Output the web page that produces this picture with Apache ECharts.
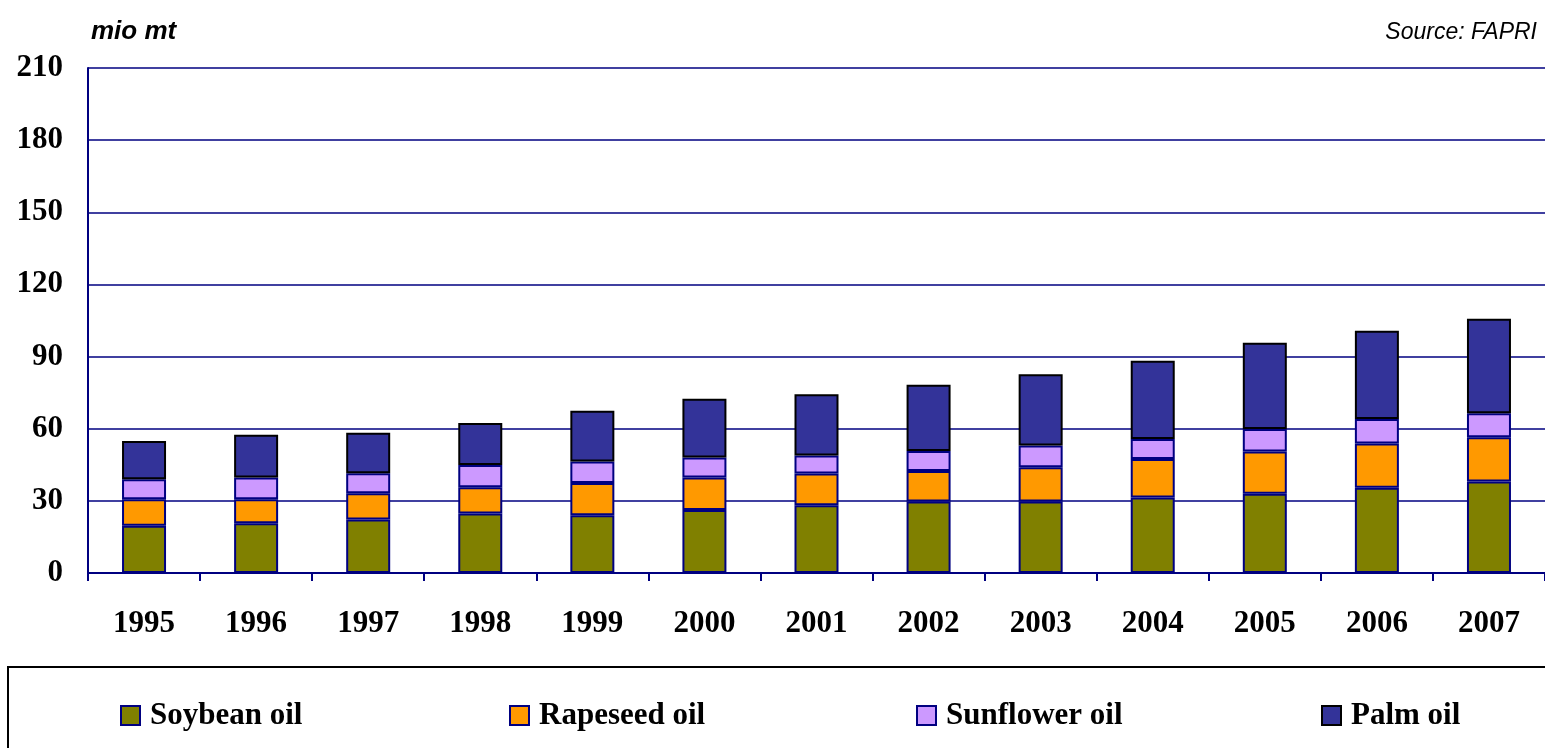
<!DOCTYPE html>
<html>
<head>
<meta charset="utf-8">
<script src="https://cdn.jsdelivr.net/npm/echarts@6/dist/echarts.min.js"></script>
<style>
  html, body { margin: 0; padding: 0; background: #fff; }
  #chart { width: 1545px; height: 748px; }
</style>
</head>
<body>
<div id="chart"></div>
<script>
// data (mio mt)
const years = ['1995', '1996', '1997', '1998', '1999', '2000', '2001', '2002', '2003', '2004', '2005', '2006', '2007'];
const soybean = [19.7, 20.7, 22.2, 24.7, 24.0, 26.2, 28.2, 29.7, 29.7, 31.4, 33.0, 35.5, 38.0];
const rapeseed = [11.0, 10.0, 11.0, 11.0, 13.4, 13.5, 13.2, 12.7, 14.3, 16.0, 17.5, 18.4, 18.4];
const sunflower = [8.3, 9.0, 8.3, 9.2, 9.0, 8.3, 7.5, 8.3, 9.0, 8.3, 9.4, 10.1, 10.0];
const palm = [15.9, 17.8, 16.8, 17.5, 21.1, 24.5, 25.4, 27.6, 29.6, 32.6, 35.8, 36.7, 39.3];
const yTicks = [0, 30, 60, 90, 120, 150, 180, 210];

const navy = '#000080';
const serif = '"Liberation Serif", "Times New Roman", serif';
const sans = '"Liberation Sans", Arial, sans-serif';

const myChart = echarts.init(document.getElementById('chart'));

function barSeries(name, data, color, border) {
    return {
        name: name,
        type: 'bar',
        stack: 'oil',
        barWidth: 44,
        data: data,
        itemStyle: { color: color, borderColor: border, borderWidth: 2 }
    };
}

function legendItem(name, left) {
    return {
        data: [name],
        left: left,
        top: 695,
        icon: 'rect',
        itemWidth: 19,
        itemHeight: 19,
        itemGap: 0,
        textStyle: { fontFamily: serif, fontWeight: 'bold', fontSize: 31, color: '#000', padding: [0, 0, 0, 5] }
    };
}

const option = {
    animation: false,
    backgroundColor: '#fff',
    grid: { left: 88, top: 68, right: -2.5, bottom: 175 },
    legend: [
        legendItem('Soybean oil', 115),
        legendItem('Rapeseed oil', 504),
        legendItem('Sunflower oil', 911),
        legendItem('Palm oil', 1316)
    ],
    graphic: [
        { type: 'text', left: 91, top: 19, style: { text: 'mio mt', font: 'italic bold 26px ' + sans, fill: '#000' } },
        { type: 'text', right: 8, top: 21, style: { text: 'Source: FAPRI', font: 'italic 23px ' + sans, fill: '#000' } },
        { type: 'rect', shape: { x: 8, y: 667, width: 1560, height: 120 }, style: { fill: 'none', stroke: '#000', lineWidth: 2 } }
    ],
    xAxis: {
        type: 'category',
        data: years,
        axisLine: { lineStyle: { color: navy, width: 2 } },
        axisTick: { show: true, length: 8, lineStyle: { color: navy, width: 2 } },
        axisLabel: { margin: 35, color: '#000', fontFamily: serif, fontWeight: 'bold', fontSize: 31, interval: 0 }
    },
    yAxis: {
        type: 'value',
        min: 0,
        max: 210,
        interval: 30,
        axisLine: { show: true, lineStyle: { color: navy, width: 2 } },
        axisTick: { show: false },
        axisLabel: {
            margin: 25, color: '#000', fontFamily: serif, fontWeight: 'bold', fontSize: 31,
            formatter: v => yTicks.includes(v) ? String(v) : ''
        },
        splitLine: { show: true, lineStyle: { color: navy, width: 1.5 } }
    },
    series: [
        barSeries('Soybean oil', soybean, '#808000', navy),
        barSeries('Rapeseed oil', rapeseed, '#FF9900', navy),
        barSeries('Sunflower oil', sunflower, '#CC99FF', navy),
        barSeries('Palm oil', palm, '#333399', '#000')
    ]
};

myChart.setOption(option);
window.addEventListener('resize', () => myChart.resize(), false);
</script>
</body>
</html>
